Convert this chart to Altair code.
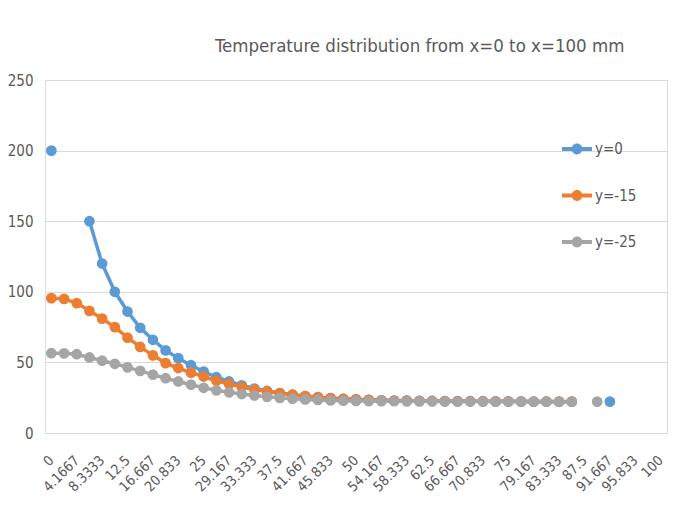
import altair as alt
import pandas as pd

categories = ["0", "2.0833", "4.1667", "6.25", "8.3333", "10.417", "12.5", "14.583",
              "16.667", "18.75", "20.833", "22.917", "25", "27.083", "29.167", "31.25",
              "33.333", "35.417", "37.5", "39.583", "41.667", "43.75", "45.833", "47.917",
              "50", "52.083", "54.167", "56.25", "58.333", "60.417", "62.5", "64.583",
              "66.667", "68.75", "70.833", "72.917", "75", "77.083", "79.167", "81.25",
              "83.333", "85.417", "87.5", "89.583", "91.667", "93.75", "95.833", "97.917", "100"]

series_names = ["y=0", "y=-15", "y=-25"]

y0 = [200, None, None, 150, 120, 100, 86, 74.5, 66, 58.5, 53, 48, 43.5, 39.5, 36.5, 33.8,
      31.5, 29.8, 28.3, 27.1, 26.1, 25.3, 24.7, 24.2, 23.8, 23.5, 23.2, 23.0, 22.9, 22.8,
      22.7, 22.6, 22.6, 22.5, 22.5, 22.4, 22.4, 22.4, 22.3, 22.3, 22.3, 22.3,
      None, None, 22.2, None, None, None, None]

y15 = [95.5, 95, 92, 86.5, 81, 75, 67.5, 61, 55, 49.5, 46, 42.7, 40, 37, 34.7, 32.5,
       30.8, 29.4, 28.2, 27.1, 26.2, 25.4, 24.7, 24.2, 23.8, 23.5, 23.2, 23.0, 22.9, 22.8,
       22.7, 22.6, 22.5, 22.5, 22.4, 22.4, 22.4, 22.3, 22.3, 22.3, 22.2, 22.2,
       None, None, None, None, None, None, None]

y25 = [56.5, 56.4, 55.8, 53.5, 51.2, 49, 46.5, 44, 41.3, 38.8, 36.5, 34.2, 32, 30.2, 28.8, 27.6,
       26.5, 25.6, 24.9, 24.3, 23.8, 23.4, 23.1, 22.9, 22.7, 22.6, 22.5, 22.5, 22.4, 22.4,
       22.4, 22.3, 22.3, 22.3, 22.3, 22.2, 22.2, 22.2, 22.2, 22.2, 22.1, 22.1,
       None, 22.2, None, None, None, None, None]

colors = ["#5b9bd5", "#ed7d31", "#a5a5a5"]
axis_labels = categories[::2]

rows = []
for name, vals in zip(series_names, [y0, y15, y25]):
    for c, v in zip(categories, vals):
        rows.append({"x": c, "series": name, "temp": v})
df = pd.DataFrame(rows)

FONT = "DejaVu Sans Condensed, sans-serif"
GREY_TEXT = "#595959"

legend_shape = ("M-1,-0.13 L1,-0.13 L1,0.13 L-1,0.13 Z "
                "M-0.36,0 A0.36,0.36 0 1,1 0.36,0 A0.36,0.36 0 1,1 -0.36,0 Z")

x_enc = alt.X("x:O", sort=categories, scale=alt.Scale(domain=categories),
              axis=alt.Axis(values=axis_labels, labelAngle=-45, labelAlign="right",
                            labelBaseline="middle", labelPadding=25, ticks=False,
                            domain=False, grid=False, title=None,
                            labelFontSize=14, labelColor=GREY_TEXT, labelFont=FONT))
y_enc = alt.Y("temp:Q", scale=alt.Scale(domain=[0, 250]),
              axis=alt.Axis(values=[0, 50, 100, 150, 200, 250], ticks=False, domain=False,
                            gridColor="#d9d9d9", gridWidth=1.2, title=None,
                            labelFontSize=15, labelColor=GREY_TEXT, labelFont=FONT,
                            labelPadding=12))
color_enc = alt.Color("series:N", scale=alt.Scale(domain=series_names, range=colors),
                      legend=alt.Legend(title=None, orient="none", legendX=517, legendY=54,
                                        symbolType=legend_shape, symbolSize=900,
                                        symbolStrokeWidth=0, rowPadding=23.5, padding=0,
                                        labelOffset=3, labelFontSize=15,
                                        labelColor=GREY_TEXT, labelFont=FONT))

layers = []
for name in series_names:
    layers.append(
        alt.Chart(df).transform_filter(alt.datum.series == name)
        .mark_line(strokeWidth=3.5, point=alt.OverlayMarkDef(filled=True, size=115, opacity=1))
        .encode(x=x_enc, y=y_enc, color=color_enc)
    )

chart = alt.layer(*layers).properties(
    width=622, height=353,
    autosize="none",
    padding={"left": 37, "top": 72, "right": 3, "bottom": 80},
    title=alt.TitleParams("Temperature distribution from x=0 to x=100 mm",
                          anchor="start", frame="group", dx=170, offset=3,
                          baseline="alphabetic",
                          fontSize=18.5, font=FONT, fontWeight="normal", color=GREY_TEXT),
).configure_view(stroke=None).configure(background="white")

chart.save("out.html", embed_options={"renderer": "svg", "actions": False})
